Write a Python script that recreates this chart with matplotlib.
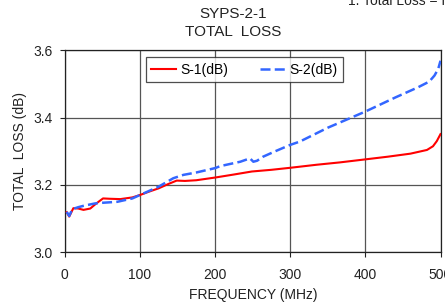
import numpy as np
import matplotlib
matplotlib.use('Agg')
import matplotlib.pyplot as plt

plt.rcParams['font.family'] = ['Liberation Sans', 'DejaVu Sans']

# S-1 curve (dB)
freq_s1 = [2.7, 6, 11.5, 18, 25, 34, 42, 51, 60, 74, 90, 100, 112, 125, 138, 149,
           160, 175, 200, 225, 249, 275, 300, 335, 366, 400, 430, 460, 482, 490, 495, 500]
loss_s1 = [3.119, 3.106, 3.131, 3.130, 3.126, 3.130, 3.145, 3.160, 3.159, 3.158, 3.163,
           3.170, 3.180, 3.190, 3.203, 3.213, 3.212, 3.214, 3.222, 3.231, 3.240, 3.245,
           3.251, 3.260, 3.267, 3.276, 3.284, 3.293, 3.304, 3.315, 3.330, 3.351]

# S-2 curve (dB)
freq_s2 = [2.7, 6, 10, 18, 25, 40, 50, 70, 90, 100, 125, 144.5, 158, 175, 200, 207,
           233.6, 246.5, 251, 256, 264, 280, 300, 313, 350, 400, 440, 470, 485, 492, 497, 500]
loss_s2 = [3.120, 3.108, 3.128, 3.134, 3.138, 3.145, 3.147, 3.150, 3.160, 3.170, 3.195,
           3.220, 3.230, 3.237, 3.250, 3.256, 3.269, 3.279, 3.269, 3.272, 3.284, 3.300,
           3.319, 3.329, 3.370, 3.418, 3.460, 3.490, 3.507, 3.525, 3.545, 3.569]

xticks = [0, 100, 200, 300, 400, 500]
yticks = [3.0, 3.2, 3.4, 3.6]

fig = plt.figure(figsize=(4.45, 3.05), dpi=100)
ax = fig.add_axes([0.1454, 0.1728, 0.8445, 0.6623])

ax.plot(freq_s1, loss_s1, color='#ff0000', lw=1.5, label='S-1(dB)', zorder=3)
ax.plot(freq_s2, loss_s2, color='#3366ff', lw=1.8, dashes=(4, 1.7), label='S-2(dB)', zorder=3)

ax.set_xlim(0, 500)
ax.set_ylim(3.0, 3.6)
ax.set_xticks(xticks)
ax.set_yticks(yticks)
ax.yaxis.set_major_formatter(matplotlib.ticker.FormatStrFormatter('%1.1f'))
ax.grid(True, color='#555555', lw=0.9)
ax.set_axisbelow(True)
for s in ax.spines.values():
    s.set_color('#222222')
    s.set_linewidth(0.9)
ax.tick_params(axis='both', labelsize=10, colors='#222222', length=3.5, width=0.8)
ax.tick_params(axis='x', pad=8)
ax.tick_params(axis='y', pad=5)

leg = ax.legend(loc='upper center', bbox_to_anchor=(0.478, 0.965), ncol=2, fontsize=10,
                frameon=True, fancybox=False, handlelength=1.8, columnspacing=2.3,
                handletextpad=0.3, borderpad=0.4, borderaxespad=0)
leg.get_frame().set_edgecolor('#222222')
leg.get_frame().set_linewidth(0.9)

fig.text(0.524, 0.954, 'SYPS-2-1', ha='center', va='center', fontsize=11, color='#222222')
fig.text(0.524, 0.895, 'TOTAL  LOSS', ha='center', va='center', fontsize=11, color='#222222')
fig.text(0.045, 0.505, 'TOTAL  LOSS (dB)', ha='center', va='center', rotation=90,
         fontsize=10, color='#222222')
fig.text(0.568, 0.033, 'FREQUENCY (MHz)', ha='center', va='center', fontsize=10, color='#222222')
fig.text(0.782, 0.984, '1. Total Loss = IL', ha='left', va='baseline', fontsize=10, color='#222222')

fig.savefig('out.png', dpi=100)
